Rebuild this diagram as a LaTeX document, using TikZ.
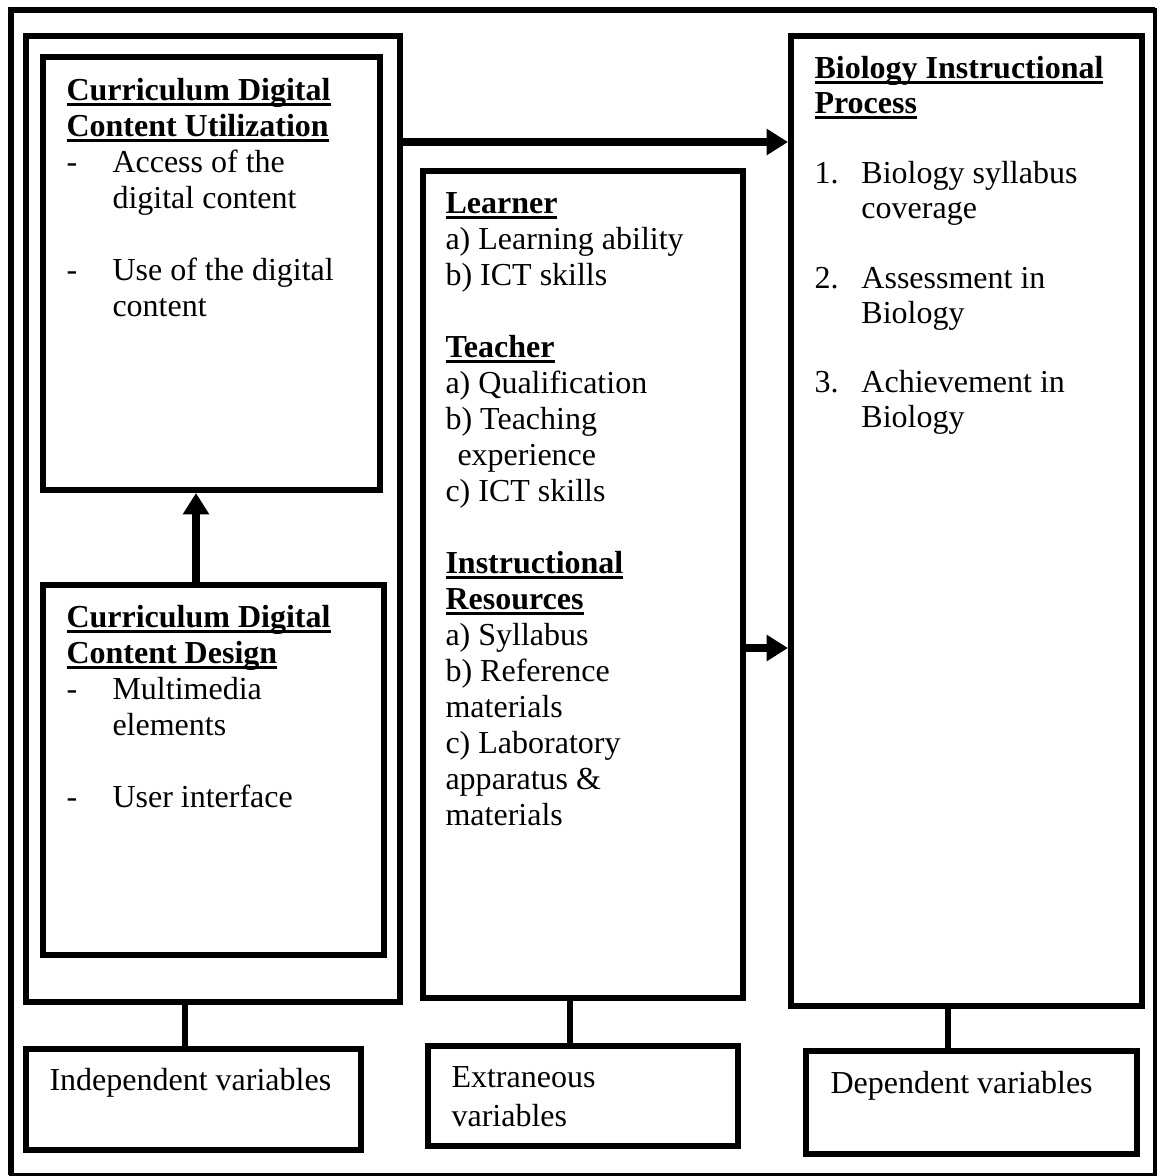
\documentclass[tikz,border=0pt]{standalone}
\usepackage{fontspec}
\setmainfont{Liberation Serif}
\usetikzlibrary{arrows.meta,fit}
\newsavebox\hulbox
\newcommand\hul[1]{\sbox\hulbox{#1}\rlap{\rule[-2.2pt]{\wd\hulbox}{1.1pt}}\usebox\hulbox}
\newcommand\myhead[1]{\textbf{\hul{#1}}}
\newcommand\dashitem[1]{\makebox[17.25pt][l]{-}#1}
\newcommand\dashcont[1]{\hspace*{17.25pt}#1}
\newcommand\numitem[2]{\makebox[17.6pt][l]{#1}#2}
\newcommand\numcont[1]{\hspace*{17.6pt}#1}
\begin{document}
\begin{tikzpicture}[x=0.375pt,y=-0.375pt,
  box/.style={draw, line width=2.25pt, inner sep=0pt},
  txt/.style={anchor=north west, inner sep=0pt, align=left, font=\fontsize{12pt}{13.5pt}\selectfont},
  link/.style={line width=1.9pt},
  arr/.style={line width=3pt, -{Triangle[length=8pt,width=9.4pt]}}]
\useasboundingbox (0,0) rectangle (1160,1176);
% outer frame
\draw[line width=2.25pt] (11,1174.5) -- (11,10) -- (1155,10);
\draw[line width=1.3pt] (1155,8) -- (1155,1174.5) -- (9,1174.5);
% boxes
\node[box, fit={(26,36) (400,1002)}] (indep) {};
\node[box, fit={(43,57) (379.5,490)}] (util) {};
\node[box, fit={(43,585) (384,955)}] (design) {};
\node[box, fit={(423,171) (743,998)}] (extr) {};
\node[box, fit={(791,36) (1142,1006)}] (dep) {};
\node[box, fit={(26,1049) (361,1150)}] (indeplbl) {};
\node[box, fit={(428,1046) (738,1146)}] (extrlbl) {};
\node[box, fit={(806,1051) (1137,1154)}] (deplbl) {};
% coordinates for connectors
\coordinate (ytop) at (0,142);
\coordinate (ymid) at (0,648);
\coordinate (xup) at (196,0);
\coordinate (xl) at (185,0);
\coordinate (xm) at (570,0);
\coordinate (xr) at (948,0);
% arrows
\draw[arr] (indep.east |- ytop) -- (dep.west |- ytop);
\draw[arr] (extr.east |- ymid) -- (dep.west |- ymid);
\draw[arr] (design.north -| xup) -- (util.south -| xup);
% plain links
\draw[link] (indep.south -| xl) -- (indeplbl.north -| xl);
\draw[link] (extr.south -| xm) -- (extrlbl.north -| xm);
\draw[link] (dep.south -| xr) -- (deplbl.north -| xr);
% texts
\node[txt] (utiltxt) at (66,74.8) {\strut\myhead{Curriculum Digital}\\
  \myhead{Content Utilization}\\
  \dashitem{Access of the}\\
  \dashcont{digital content}\\[13.5pt]
  \dashitem{Use of the digital}\\
  \dashcont{content}};
\node[txt] (designtxt) at (66,601.8) {\strut\myhead{Curriculum Digital}\\
  \myhead{Content Design}\\
  \dashitem{Multimedia}\\
  \dashcont{elements}\\[13.5pt]
  \dashitem{User interface}};
\node[txt] (extrtxt) at (445,187.8) {\strut\myhead{Learner}\\
  a) Learning ability\\
  b) ICT skills\\[13.5pt]
  \myhead{Teacher}\\
  a) Qualification\\
  b) Teaching\\
  \hspace*{4.5pt}experience\\
  c) ICT skills\\[13.5pt]
  \myhead{Instructional}\\
  \myhead{Resources}\\
  a) Syllabus\\
  b) Reference\\
  materials\\
  c) Laboratory\\
  apparatus \&\\
  materials};
\node[txt, font=\fontsize{12pt}{13.1pt}\selectfont] (deptxt) at (814,53.5) {\strut\myhead{Biology Instructional}\\
  \myhead{Process}\\[13.1pt]
  \numitem{1.}{Biology syllabus}\\
  \numcont{coverage}\\[13.1pt]
  \numitem{2.}{Assessment in}\\
  \numcont{Biology}\\[13.1pt]
  \numitem{3.}{Achievement in}\\
  \numcont{Biology}};
\node[txt] (indeplbltxt) at (49,1064.8) {\strut Independent variables};
\node[txt, font=\fontsize{12pt}{14.6pt}\selectfont] (extrlbltxt) at (451,1059.7) {\strut Extraneous\\ variables};
\node[txt] (deplbltxt) at (830,1067.8) {\strut Dependent variables};
\end{tikzpicture}
\end{document}
